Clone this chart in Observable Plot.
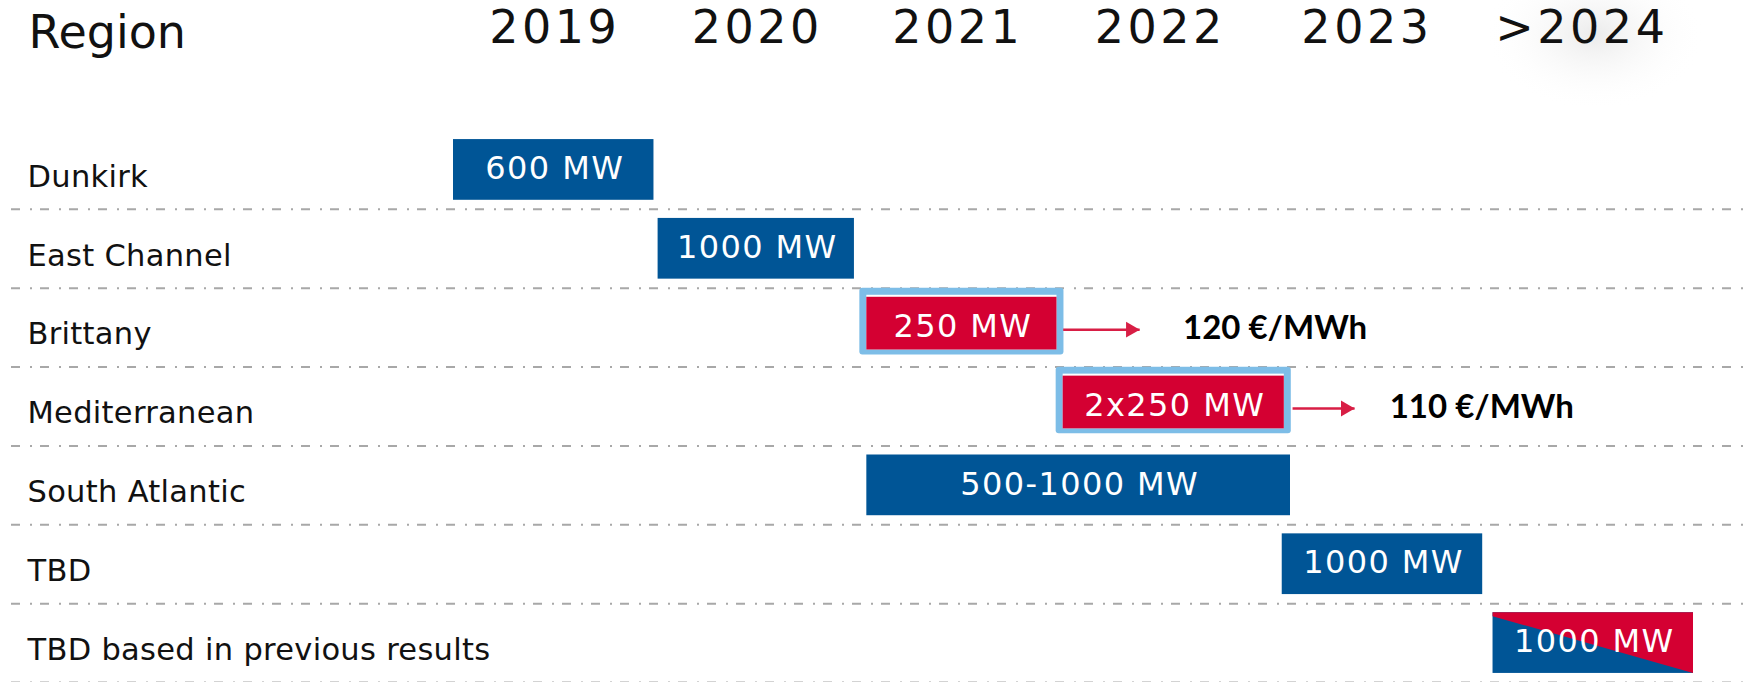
<!DOCTYPE html>
<html>
<head>
<meta charset="utf-8">
<script src="https://cdn.jsdelivr.net/npm/d3@7"></script>
<script src="https://cdn.jsdelivr.net/npm/@observablehq/plot@0.6"></script>
<style>
  html, body { margin: 0; padding: 0; background: #ffffff; }
  #chart svg { display: block; }
</style>
</head>
<body>
<div id="chart"></div>
<script>
// ---- data ----
const regions = ["Dunkirk", "East Channel", "Brittany", "Mediterranean", "South Atlantic", "TBD", "TBD based in previous results"];
const barStart = [2019.0, 2019.99, 2021.0, 2021.95, 2021.0, 2023.01, 2024.03];
const barEnd   = [2019.97, 2020.94, 2021.92, 2023.02, 2023.05, 2023.98, 2025.0];
const barLabels = ["600 MW", "1000 MW", "250 MW", "2x250 MW", "500-1000 MW", "1000 MW", "1000 MW"];
const barKind = ["planned", "planned", "awarded", "awarded", "planned", "planned", "mixed"];

const yearLabels = ["2019", "2020", "2021", "2022", "2023", ">2024"];
const yearPos = [2019.48, 2020.46, 2021.43, 2022.41, 2023.41, 2024.45];

const priceRegions = ["Brittany", "Mediterranean"];
const priceLabels = ["120 €/MWh", "110 €/MWh"];
const priceX = [2022.53, 2023.53];
const arrowFrom = [2021.95, 2023.06];
const arrowTo = [2022.32, 2023.36];

// ---- tables built from the arrays ----
const bars = regions.map((r, i) => ({row: i, region: r, start: barStart[i], end: barEnd[i], label: barLabels[i], kind: barKind[i]}));
const rowOf = r => regions.indexOf(r);
const prices = priceRegions.map((r, i) => ({row: rowOf(r), label: priceLabels[i], x: priceX[i], from: arrowFrom[i], to: arrowTo[i]}));
const separators = regions.map((_, i) => i + 0.5);
const years = yearLabels.map((t, i) => ({t, x: yearPos[i]}));

const BLUE = "#005596", RED = "#d40032", LIGHT = "#7dbde7", ARROW = "#d81e45";
const T = -0.385, B = 0.385; // bar extent within a row

const planned = bars.filter(d => d.kind !== "awarded");
const awarded = bars.filter(d => d.kind === "awarded");
const mixed = bars.filter(d => d.kind === "mixed");
// split triangle (upper-right part red)
const split = mixed.flatMap(d => [
  {x: d.start, y1: d.row + T, y2: d.row + T + 0.05},
  {x: d.end, y1: d.row + T, y2: d.row + B}
]);

const plot = Plot.plot({
  width: 1748,
  height: 682,
  marginLeft: 453,
  marginRight: 55,
  marginTop: 130,
  marginBottom: 0,
  style: {fontFamily: "'DejaVu Sans', sans-serif", background: "#ffffff", color: "#000"},
  x: {domain: [2019, 2025], axis: null},
  y: {domain: [-0.5, 6.5], reverse: true, axis: null},
  marks: [
    Plot.ruleY(separators, {stroke: "#a8a8a8", strokeWidth: 2, strokeDasharray: "9,10,2,8", insetLeft: -442, insetRight: -55}),
    // planned (blue) bars
    Plot.rect(planned, {x1: "start", x2: "end", y1: d => d.row + T, y2: d => d.row + B, fill: BLUE}),
    // split red corner
    Plot.areaY(split, {x: "x", y1: "y1", y2: "y2", fill: RED, curve: "linear"}),
    // awarded bars: light-blue frame, white line, red body
    Plot.rect(awarded, {x1: "start", x2: "end", y1: d => d.row + T, y2: d => d.row + B, fill: LIGHT, rx: 3, insetLeft: -7, insetRight: -7, insetTop: -9, insetBottom: 3}),
    Plot.rect(awarded, {x1: "start", x2: "end", y1: d => d.row + T, y2: d => d.row + B, fill: "#ffffff", insetTop: -2, insetBottom: 8}),
    Plot.rect(awarded, {x1: "start", x2: "end", y1: d => d.row + T, y2: d => d.row + B, fill: RED, insetTop: 0, insetBottom: 8}),
    // bar labels
    Plot.text(bars, {x: d => (d.start + d.end) / 2, y: "row", text: "label", fill: "#ffffff", fontSize: 32, dy: -1, dx: 1}),
    // arrows to prices
    Plot.link(prices, {x1: "from", x2: "to", y1: "row", y2: "row", stroke: ARROW, strokeWidth: 2.5, dy: 2}),
    Plot.dot(prices, {x: "to", y: "row", symbol: "triangle", rotate: 90, r: 5.9, fill: ARROW, stroke: "none", dx: -9, dy: 2}),
    Plot.text(prices, {x: "x", y: "row", text: "label", textAnchor: "start", fontFamily: "Lato, sans-serif", fontWeight: "bold", fontSize: 33, fill: "#000", dy: 1}),
    // row labels
    Plot.text(regions, {y: (d, i) => i, text: d => d, frameAnchor: "left", textAnchor: "start", dx: -426, dy: 7, fontSize: 30.5, fill: "#111"}),
    // year header
    Plot.text(years, {x: "x", text: "t", frameAnchor: "top", lineAnchor: "bottom", dy: -88, dx: 2, fontSize: 46, fill: "#111"}),
    Plot.text(["Region"], {text: d => d, frameAnchor: "top-left", textAnchor: "start", lineAnchor: "bottom", dx: -425, dy: -83, fontSize: 46, fill: "#111"})
  ]
});

const svg = d3.select(plot);
// letter spacing to match the wide typeface of the reference
svg.selectAll("text").each(function () {
  const t = this.textContent;
  const sel = d3.select(this);
  if (yearLabels.includes(t)) sel.style("letter-spacing", "3.5px");
  else if (barLabels.includes(t)) sel.style("letter-spacing", "1.4px");
  else if (regions.includes(t)) sel.style("letter-spacing", "0.3px");
});

// faint grey glow behind the last year heading (as in the reference picture)
const gid = "glow-" + Math.random().toString(36).slice(2);
const defs = svg.insert("defs", ":first-child");
const grad = defs.append("radialGradient").attr("id", gid);
grad.append("stop").attr("offset", "0%").attr("stop-color", "#ebebeb");
grad.append("stop").attr("offset", "100%").attr("stop-color", "#ffffff").attr("stop-opacity", 0);
const xs = plot.scale("x");
const gx = xs.apply(yearPos[yearPos.length - 1]) + 15;
svg.insert("ellipse", "defs + *")
  .attr("cx", gx).attr("cy", 35).attr("rx", 110).attr("ry", 75)
  .attr("fill", `url(#${gid})`);

document.getElementById("chart").appendChild(plot);
</script>
</body>
</html>
